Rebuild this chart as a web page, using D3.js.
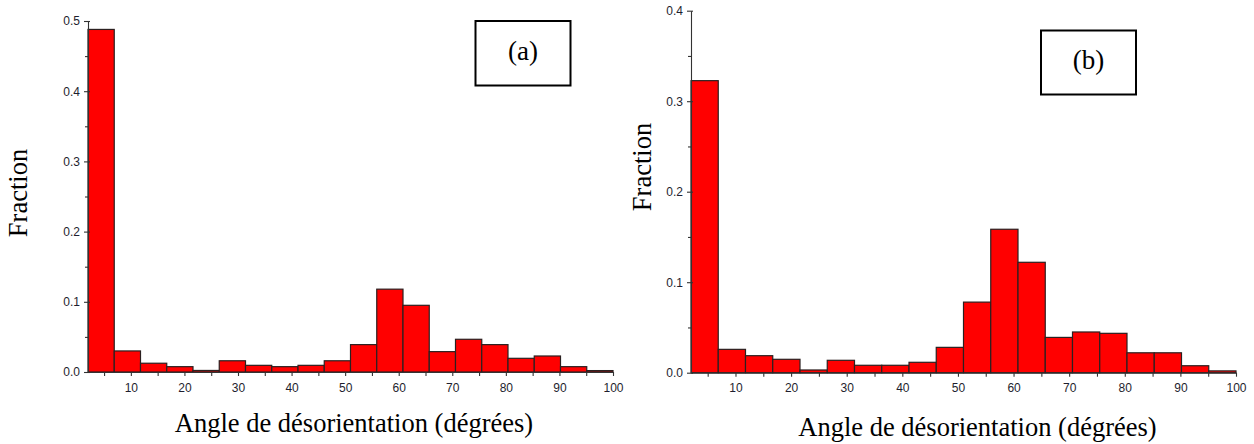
<!DOCTYPE html>
<html>
<head>
<meta charset="utf-8">
<script src="https://cdn.jsdelivr.net/npm/d3@7"></script>
<style>
  html, body { margin: 0; padding: 0; background: #fff; }
  svg { display: block; }
</style>
</head>
<body>
<svg id="chart" width="1254" height="444"></svg>
<script>
// ---- Data ----
const binLower = [2, 6.9, 11.8, 16.7, 21.6, 26.5, 31.4, 36.3, 41.2, 46.1, 51, 55.9, 60.8, 65.7, 70.6, 75.5, 80.4, 85.3, 90.2, 95.1];
const binUpper = [6.9, 11.8, 16.7, 21.6, 26.5, 31.4, 36.3, 41.2, 46.1, 51, 55.9, 60.8, 65.7, 70.6, 75.5, 80.4, 85.3, 90.2, 95.1, 100];
const fractionA = [0.488, 0.030, 0.0125, 0.0076, 0.0022, 0.016, 0.0095, 0.0076, 0.0095, 0.016, 0.039, 0.118, 0.095, 0.029, 0.0466, 0.039, 0.0195, 0.0228, 0.0076, 0.002];
const fractionB = [0.3227, 0.0258, 0.0188, 0.0148, 0.003, 0.0137, 0.0082, 0.0082, 0.0115, 0.028, 0.078, 0.1585, 0.122, 0.039, 0.045, 0.0435, 0.022, 0.022, 0.0077, 0.002];
const xLabelTicks = [10, 20, 30, 40, 50, 60, 70, 80, 90, 100];
const xMinorTicks = [5, 15, 25, 35, 45, 55, 65, 75, 85, 95];
const yMajorTicksA = [0.0, 0.1, 0.2, 0.3, 0.4, 0.5];
const yMinorTicksA = [0.05, 0.15, 0.25, 0.35, 0.45];
const yMajorTicksB = [0.0, 0.1, 0.2, 0.3, 0.4];
const yMinorTicksB = [0.05, 0.15, 0.25, 0.35];
const xTitle = "Angle de désorientation (dégrées)";
const yTitle = "Fraction";
const panelTags = ["(a)", "(b)"];

const svg = d3.select("#chart");
const tickFont = "'Liberation Sans', Arial, sans-serif";
const serif = "'Liberation Serif', 'Times New Roman', serif";

function drawPanel(cfg) {
  const g = svg.append("g");
  const x = d3.scaleLinear().domain([2, 100]).range(cfg.xRange);
  const y = d3.scaleLinear().domain([0, cfg.yMax]).range(cfg.yRange);

  // bars
  g.selectAll("rect.bar")
    .data(cfg.values.map((v, i) => ({ lo: binLower[i], hi: binUpper[i], v })))
    .join("rect")
    .attr("class", "bar")
    .attr("x", d => x(d.lo))
    .attr("width", d => x(d.hi) - x(d.lo))
    .attr("y", d => y(d.v))
    .attr("height", d => y(0) - y(d.v))
    .attr("fill", "#ff0000")
    .attr("stroke", "#2b2020")
    .attr("stroke-width", 1.2);

  // x axis (labels)
  const xa = g.append("g")
    .attr("transform", `translate(0,${cfg.yRange[0]})`)
    .call(d3.axisBottom(x).tickValues(xLabelTicks).tickSize(4).tickSizeOuter(0).tickPadding(7).tickFormat(d3.format("d")));
  const xm = g.append("g")
    .attr("transform", `translate(0,${cfg.yRange[0]})`)
    .call(d3.axisBottom(x).tickValues(xMinorTicks).tickSize(4).tickSizeOuter(0).tickFormat(""));
  xm.select(".domain").remove();

  // y axis
  const ya = g.append("g")
    .attr("transform", `translate(${cfg.xRange[0]},0)`)
    .call(d3.axisLeft(y).tickValues(cfg.yMajor).tickSize(4).tickSizeOuter(0).tickPadding(4).tickFormat(d3.format(".1f")));
  ya.selectAll(".tick line").attr("x1", 2);
  const ym = g.append("g")
    .attr("transform", `translate(${cfg.xRange[0]},0)`)
    .call(d3.axisLeft(y).tickValues(cfg.yMinor).tickSize(3).tickSizeOuter(0).tickFormat(""));
  ym.select(".domain").remove();

  [xa, xm, ya, ym].forEach(a => {
    a.selectAll("path,line").attr("stroke", "#333").attr("stroke-width", 1.1);
    a.selectAll("text").attr("fill", "#1e1e2e").style("font-family", tickFont)
      .style("font-size", "12px").style("font-weight", "500");
  });

  // titles
  g.append("text")
    .attr("x", cfg.xTitlePos[0]).attr("y", cfg.xTitlePos[1])
    .attr("text-anchor", "middle")
    .style("font-family", serif).style("font-size", "26.5px")
    .attr("fill", "#000")
    .text(xTitle);
  g.append("text")
    .attr("transform", `translate(${cfg.yTitlePos[0]},${cfg.yTitlePos[1]}) rotate(-90)`)
    .attr("text-anchor", "middle")
    .style("font-family", serif).style("font-size", "26.5px")
    .attr("fill", "#000")
    .text(yTitle);

  // tag box
  const b = cfg.box;
  g.append("rect")
    .attr("x", b[0]).attr("y", b[1]).attr("width", b[2]).attr("height", b[3])
    .attr("fill", "#fff").attr("stroke", "#000").attr("stroke-width", 2);
  g.append("text")
    .attr("x", b[0] + b[2] / 2).attr("y", cfg.tagBaseline)
    .attr("text-anchor", "middle")
    .style("font-family", serif).style("font-size", "27px")
    .attr("fill", "#000")
    .text(cfg.tag);
}

drawPanel({
  values: fractionA, yMax: 0.5,
  xRange: [88, 613], yRange: [372, 21],
  yMajor: yMajorTicksA, yMinor: yMinorTicksA,
  xTitlePos: [354, 432], yTitlePos: [27, 193],
  box: [475.5, 21, 95, 64.5], tagBaseline: 59.5, tag: panelTags[0]
});
drawPanel({
  values: fractionB, yMax: 0.4,
  xRange: [691, 1236], yRange: [372.7, 10.7],
  yMajor: yMajorTicksB, yMinor: yMinorTicksB,
  xTitlePos: [977.5, 436], yTitlePos: [651, 167],
  box: [1041, 30.5, 95, 64], tagBaseline: 68.5, tag: panelTags[1]
});
</script>
</body>
</html>
